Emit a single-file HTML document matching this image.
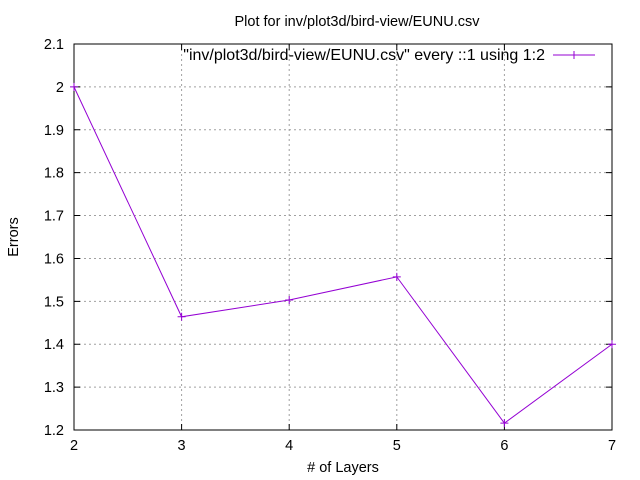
<!DOCTYPE html>
<html><head><meta charset="utf-8"><style>
body{margin:0;background:#fff;}
svg{display:block;font-family:"Liberation Sans",sans-serif;font-size:14.5px;}
</style></head><body>
<svg id="chart" width="640" height="480" viewBox="0 0 640 480">
<rect width="640" height="480" fill="#fff"/>
<g id="grid"></g>
<g id="axes"></g>
<g id="series"></g>
<text x="357" y="26" text-anchor="middle">Plot for inv/plot3d/bird-view/EUNU.csv</text>
<text x="343" y="472" text-anchor="middle"># of Layers</text>
<text transform="translate(18,237) rotate(-90)" text-anchor="middle">Errors</text>
<g>
<text x="545" y="60" text-anchor="end" style="font-size:16px">"inv/plot3d/bird-view/EUNU.csv" every ::1 using 1:2</text>
<line x1="553" y1="55" x2="595" y2="55" stroke="#9400d3" stroke-width="1"/>
<path d="M570,55h8M574,51v8" stroke="#9400d3"/>
</g>
</svg>
<script>
const xValues=[2,3,4,5,6,7];
const yValues=[2.0,1.464,1.503,1.557,1.216,1.40];
const xTicks=[2,3,4,5,6,7];
const yTicks=[1.2,1.3,1.4,1.5,1.6,1.7,1.8,1.9,2,2.1];
const L=74,R=612,T=44,B=430,xMin=2,xMax=7,yMin=1.2,yMax=2.1;
const sx=v=>L+(v-xMin)/(xMax-xMin)*(R-L);
const sy=v=>B-(v-yMin)/(yMax-yMin)*(B-T);
const NS="http://www.w3.org/2000/svg";
function mk(t,a,p){const e=document.createElementNS(NS,t);for(const k in a)e.setAttribute(k,a[k]);p.appendChild(e);return e;}
const grid=document.getElementById('grid'),axes=document.getElementById('axes'),series=document.getElementById('series');
xTicks.forEach(v=>{const x=sx(v);
 if(v>xMin&&v<xMax){const g=mk('line',{x1:x,y1:T,x2:x,y2:B,stroke:'#a0a0a0','stroke-dasharray':'2,3'},grid);
 
 }
 const tk=mk('path',{d:`M${x},${B}v-6M${x},${T}v6`,stroke:'#000'},axes);
 
 
 const t=mk('text',{x:x,y:B+20,'text-anchor':'middle'},axes);t.textContent=v;
 
 
});
yTicks.forEach(v=>{const y=sy(v);
 if(v>yMin+1e-9&&v<yMax-1e-9){const g=mk('line',{x1:L,y1:y,x2:R,y2:y,stroke:'#a0a0a0','stroke-dasharray':'2,3'},grid);
 
 }
 const tk=mk('path',{d:`M${L},${y}h6M${R},${y}h-6`,stroke:'#000'},axes);
 
 
 const t=mk('text',{x:L-10,y:y+5,'text-anchor':'end'},axes);t.textContent=String(v);
 
 
});
const fr=mk('rect',{x:L,y:T,width:R-L,height:B-T,fill:'none',stroke:'#000'},axes);


const pts=xValues.map((x,i)=>[sx(x),sy(yValues[i])]);
const ln=mk('polyline',{points:pts.map(p=>p.join(',')).join(' '),fill:'none',stroke:'#9400d3'},series);


pts.forEach(p=>{const m=mk('path',{d:`M${p[0]-4},${p[1]}h8M${p[0]},${p[1]-4}v8`,stroke:'#9400d3'},series);
 
 });
</script>
</body></html>
